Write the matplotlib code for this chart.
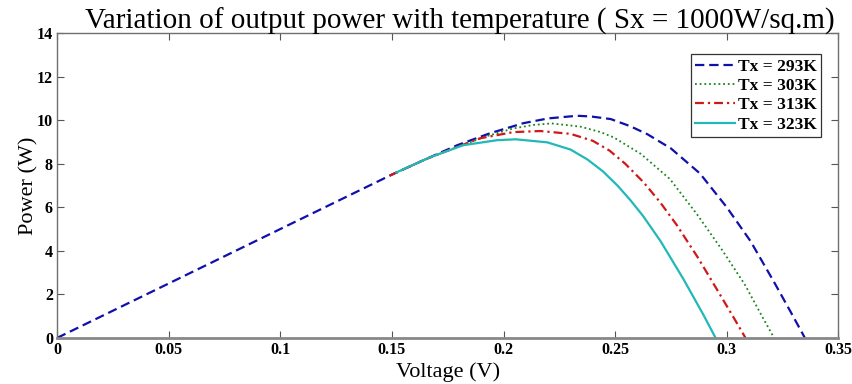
import matplotlib
matplotlib.use("Agg")
import matplotlib.pyplot as plt

# ---- data ----
v_293 = [0.0, 0.05, 0.10, 0.15, 0.165, 0.1793, 0.194, 0.2089, 0.220, 0.233, 0.239,
         0.248, 0.2568, 0.2645, 0.275, 0.288, 0.300, 0.3106, 0.321, 0.3286, 0.335]
p_293 = [0.0, 2.5, 5.0, 7.5, 8.2, 8.85, 9.40, 9.86, 10.08, 10.2, 10.17,
         10.05, 9.72, 9.35, 8.7, 7.55, 6.0, 4.45, 2.6, 1.2, 0.0]

v_303 = [0.15, 0.165, 0.18, 0.193, 0.2044, 0.2135, 0.2215, 0.2345, 0.2435, 0.2495,
         0.2615, 0.2745, 0.2865, 0.2975, 0.3081, 0.3155, 0.3212]
p_303 = [7.5, 8.2, 8.8, 9.28, 9.62, 9.78, 9.85, 9.7, 9.45, 9.2,
         8.45, 7.3, 5.7, 4.1, 2.45, 1.05, 0.0]

v_313 = [0.149, 0.165, 0.18, 0.1896, 0.2044, 0.2165, 0.230, 0.240, 0.2475, 0.2545,
         0.2627, 0.270, 0.2775, 0.287, 0.2972, 0.303, 0.3084]
p_313 = [7.45, 8.2, 8.8, 9.17, 9.45, 9.50, 9.37, 9.05, 8.6, 8.0,
         7.15, 6.25, 5.2, 3.7, 1.95, 0.95, 0.0]

v_323 = [0.152, 0.1672, 0.182, 0.1972, 0.2055, 0.2196, 0.230, 0.2375, 0.2445, 0.251,
         0.2568, 0.2625, 0.2703, 0.2806, 0.2896, 0.295]
p_323 = [7.6, 8.3, 8.85, 9.08, 9.12, 8.98, 8.65, 8.2, 7.65, 7.0,
         6.33, 5.6, 4.45, 2.7, 1.05, 0.0]

labels = ["Tx = 293K", "Tx = 303K", "Tx = 313K", "Tx = 323K"]
x_ticks = [0, 0.05, 0.1, 0.15, 0.2, 0.25, 0.3, 0.35]
x_tick_labels = ["0", "0.05", "0.1", "0.15", "0.2", "0.25", "0.3", "0.35"]
y_ticks = [0, 2, 4, 6, 8, 10, 12, 14]

serif = ["Liberation Serif", "DejaVu Serif"]

fig = plt.figure(figsize=(8.52, 3.84), dpi=100)
ax = fig.add_axes([0.067, 0.12, 0.917, 0.794])

ax.plot(v_293, p_293, linestyle=(0, (4.2, 2.2)), color="#1010aa", lw=1.6, label=labels[0])
ax.plot(v_303, p_303, linestyle=(0, (1, 1.6)), color="#1a861a", lw=1.3, label=labels[1])
ax.plot(v_313, p_313, linestyle=(0, (4, 1.8, 1, 1.8)), color="#d01818", lw=1.6, label=labels[2])
ax.plot(v_323, p_323, linestyle="-", color="#22b8b8", lw=1.6, label=labels[3])

ax.set_xlim(0, 0.35)
ax.set_ylim(0, 14)
ax.set_xticks(x_ticks)
ax.set_xticklabels(x_tick_labels)
ax.set_yticks(y_ticks)

for sp in ax.spines.values():
    sp.set_color("#707070")
    sp.set_linewidth(1.0)
ax.spines["bottom"].set_linewidth(2.0)
ax.spines["bottom"].set_color("#888888")

ax.tick_params(direction="in", length=5, width=0.8, color="#555555",
               top=True, right=True, pad=3)
for lab in ax.get_xticklabels() + ax.get_yticklabels():
    lab.set_fontfamily(serif)
    lab.set_fontweight("bold")
    lab.set_fontsize(11.5)

ax.set_title("Variation of output power with temperature ( Sx = 1000W/sq.m)",
             fontfamily=serif, fontsize=21, pad=3, x=0.515)
ax.set_xlabel("Voltage (V)", fontfamily=serif, fontsize=16, labelpad=3)
ax.set_ylabel("Power (W)", fontfamily=serif, fontsize=16, labelpad=-1)

leg = ax.legend(loc="upper right", bbox_to_anchor=(0.978, 0.93),
                prop={"family": serif, "weight": "bold", "size": 12.5},
                fancybox=False, edgecolor="#333333", framealpha=1,
                handlelength=2.3, handletextpad=0.15, borderpad=0.25,
                labelspacing=0.18, borderaxespad=0)
leg.get_frame().set_linewidth(0.9)

fig.savefig("out.png", dpi=100)
